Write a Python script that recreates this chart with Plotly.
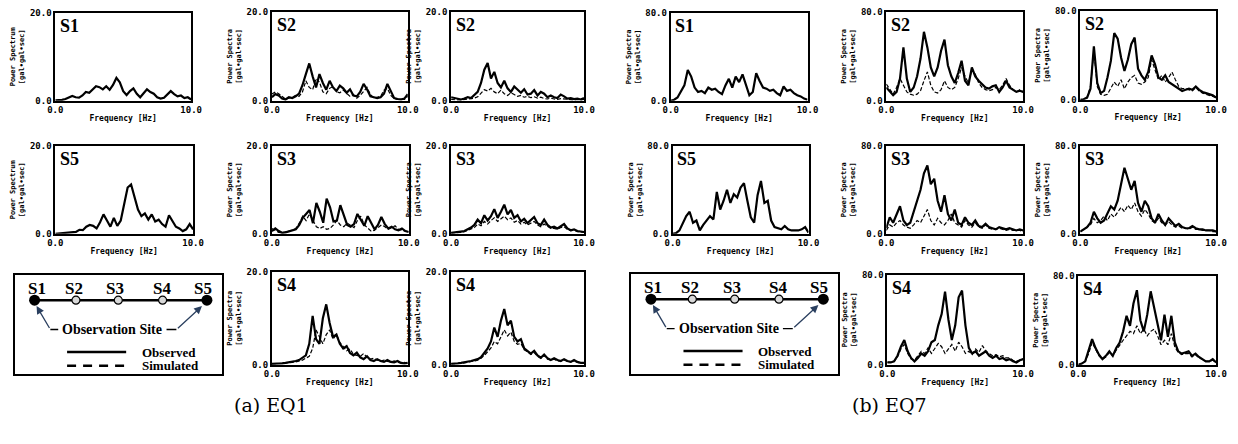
import plotly.graph_objects as go

W, H = 1238, 444

# ---------------- data ----------------
FREQ = [0.0, 0.25, 0.5, 0.75, 1.0, 1.25, 1.5, 1.75, 2.0, 2.25, 2.5, 2.75, 3.0, 3.25, 3.5, 3.75,
        4.0, 4.25, 4.5, 4.75, 5.0, 5.25, 5.5, 5.75, 6.0, 6.25, 6.5, 6.75, 7.0, 7.25, 7.5, 7.75,
        8.0, 8.25, 8.5, 8.75, 9.0, 9.25, 9.5, 9.75, 10.0]

X_TICKS = [0, 10]
X_TICKTEXT = ["0.0", "10.0"]
EQ1_YMAX = 20
EQ7_YMAX = 80
EQ1_YTICKTEXT = ["0.0", "20.0"]
EQ7_YTICKTEXT = ["0.0", "80.0"]

# EQ1 (a)
EQ1_S1_OBS = [0.1, 0.1, 0.2, 0.4, 0.8, 1.1, 0.8, 0.7, 1.2, 2.0, 1.8, 2.6, 3.3, 3.1, 2.6, 3.3, 2.5, 3.6, 5.2, 4.2,
              2.2, 1.3, 2.2, 2.8, 1.6, 0.8, 1.6, 2.6, 2.0, 1.6, 0.8, 0.5, 0.7, 1.4, 2.2, 1.5, 1.0, 1.2, 0.6, 0.8, 0.3]
EQ1_S5_OBS = [0.0, 0.05, 0.1, 0.1, 0.2, 0.3, 0.4, 0.9, 0.8, 1.6, 2.0, 1.8, 1.2, 2.6, 4.4, 3.0, 1.6, 3.6, 1.8, 3.0,
              6.5, 10.5, 11.2, 8.0, 5.5, 4.0, 4.6, 3.2, 4.4, 2.8, 3.2, 2.2, 1.6, 4.2, 3.0, 1.6, 1.2, 0.6, 1.0, 2.2, 1.0]
EQ1_S2A_OBS = [0.8, 1.5, 1.2, 0.5, 0.3, 0.8, 0.6, 1.0, 1.6, 3.5, 6.0, 8.4, 5.5, 3.0, 6.0, 4.0, 2.5, 4.5, 3.0, 2.2,
               3.4, 2.8, 1.8, 2.6, 1.2, 1.0, 2.0, 3.8, 2.6, 1.0, 0.8, 0.6, 0.8, 1.6, 3.8, 2.0, 0.6, 0.4, 0.3, 0.5, 1.5]
EQ1_S2A_SIM = [1.5, 2.0, 1.6, 1.0, 0.4, 0.6, 0.8, 1.2, 1.0, 2.0, 4.5, 3.0, 2.5, 5.0, 4.2, 2.0, 1.6, 2.8, 3.2, 2.0,
               1.8, 2.4, 1.6, 1.0, 1.4, 0.6, 1.2, 2.2, 3.0, 1.4, 0.6, 0.8, 1.0, 2.4, 2.8, 1.2, 0.5, 0.3, 0.4, 0.3, 1.0]
EQ1_S2B_OBS = [0.8, 0.6, 0.4, 0.3, 0.5, 0.8, 0.6, 1.2, 2.0, 4.0, 7.0, 8.5, 5.0, 6.5, 4.0, 3.0, 4.5, 2.8, 2.0, 3.2,
               2.4, 1.8, 2.6, 1.4, 1.6, 2.4, 1.2, 2.0, 1.6, 0.8, 1.2, 0.8, 0.6, 1.4, 1.0, 0.5, 0.6, 0.4, 0.5, 0.3, 0.6]
EQ1_S2B_SIM = [0.3, 0.2, 0.2, 0.2, 0.3, 0.4, 0.4, 0.6, 0.9, 1.6, 2.5, 2.2, 2.8, 2.0, 1.6, 2.4, 1.6, 1.2, 1.8, 1.4,
               1.0, 1.2, 0.8, 1.0, 0.7, 0.9, 0.6, 0.8, 0.5, 0.4, 0.6, 0.4, 0.3, 0.5, 0.4, 0.3, 0.3, 0.2, 0.3, 0.2, 0.3]
EQ1_S3A_OBS = [0.6, 1.2, 0.6, 0.2, 0.3, 0.5, 0.8, 1.0, 2.0, 3.6, 4.5, 5.4, 2.4, 7.0, 5.0, 2.5, 8.0, 6.0, 2.8, 3.0,
               6.5, 4.0, 2.0, 1.6, 2.2, 4.5, 3.0, 1.8, 4.0, 2.4, 1.0, 2.0, 3.8, 2.2, 1.2, 1.6, 1.0, 0.8, 1.2, 0.6, 0.4]
EQ1_S3A_SIM = [1.2, 0.8, 0.3, 0.2, 0.4, 0.6, 0.8, 1.2, 2.4, 4.0, 3.0, 4.5, 3.0, 1.6, 1.2, 1.6, 1.0, 1.2, 2.0, 3.0,
               2.0, 1.6, 2.4, 1.8, 1.4, 3.0, 4.0, 2.0, 1.2, 0.6, 0.8, 1.4, 2.0, 1.6, 1.0, 1.4, 1.8, 1.0, 0.8, 0.6, 0.4]
EQ1_S3B_OBS = [0.2, 0.3, 0.3, 0.4, 0.6, 1.0, 1.4, 2.0, 3.2, 2.4, 4.2, 3.0, 4.0, 5.6, 3.6, 5.0, 6.6, 4.4, 5.4, 3.6,
               4.2, 2.8, 3.4, 2.4, 3.0, 3.8, 2.4, 2.0, 3.2, 2.0, 1.4, 1.6, 1.2, 1.8, 2.2, 1.2, 0.8, 1.0, 0.6, 0.5, 0.4]
EQ1_S3B_SIM = [0.2, 0.2, 0.3, 0.3, 0.5, 0.8, 1.0, 1.4, 2.2, 1.8, 2.8, 2.2, 3.0, 3.6, 2.8, 3.4, 4.0, 3.2, 3.6, 2.6,
               3.0, 2.2, 2.6, 2.0, 2.4, 2.8, 2.0, 1.6, 2.2, 1.6, 1.2, 1.2, 1.0, 1.4, 1.6, 1.0, 0.7, 0.8, 0.5, 0.4, 0.3]
EQ1_S4A_OBS = [0.2, 0.2, 0.3, 0.3, 0.4, 0.5, 0.6, 0.8, 1.0, 1.5, 2.0, 4.5, 10.5, 5.5, 4.5, 10.0, 13.0, 9.0, 6.0, 6.5,
               4.5, 3.5, 4.0, 2.5, 2.0, 2.6, 1.6, 1.2, 1.8, 1.0, 0.8, 1.2, 0.8, 0.6, 1.0, 0.6, 0.5, 0.8, 0.4, 0.3, 0.4]
EQ1_S4A_SIM = [0.2, 0.2, 0.3, 0.3, 0.4, 0.4, 0.5, 0.6, 0.8, 1.0, 1.4, 1.8, 3.5, 7.5, 6.0, 4.5, 6.5, 7.5, 5.5, 6.5,
               4.8, 3.8, 3.0, 3.4, 2.2, 2.0, 1.8, 2.4, 1.6, 1.2, 1.4, 1.0, 0.8, 1.0, 0.7, 0.6, 0.8, 0.5, 0.4, 0.5, 0.3]
EQ1_S4B_OBS = [0.2, 0.2, 0.3, 0.4, 0.5, 0.6, 0.8, 1.0, 1.2, 1.6, 2.5, 3.5, 5.0, 8.0, 6.0, 9.5, 12.0, 8.5, 9.5, 6.0,
               5.0, 5.5, 3.5, 3.0, 2.4, 3.0, 2.0, 1.5, 2.2, 1.4, 1.0, 1.4, 1.0, 0.8, 1.2, 0.8, 0.6, 1.0, 0.6, 0.4, 0.4]
EQ1_S4B_SIM = [0.2, 0.2, 0.3, 0.3, 0.4, 0.5, 0.6, 0.8, 1.0, 1.4, 2.0, 2.8, 3.6, 5.0, 4.5, 6.0, 7.5, 6.2, 7.0, 5.0,
               4.4, 4.6, 3.2, 2.8, 2.2, 2.6, 1.8, 1.4, 2.0, 1.2, 1.0, 1.2, 0.8, 0.8, 1.0, 0.7, 0.6, 0.8, 0.5, 0.4, 0.3]

# EQ7 (b)
EQ7_S1_OBS = [0, 1, 3, 8, 14, 28, 22, 12, 8, 9, 7, 12, 10, 11, 8, 6, 14, 20, 12, 22,
              17, 24, 15, 5, 8, 25, 18, 12, 11, 9, 10, 7, 5, 13, 9, 10, 7, 5, 4, 2, 1]
EQ7_S5_OBS = [0, 0.5, 3, 10, 16, 20, 10, 12, 3, 8, 12, 16, 13, 38, 22, 30, 40, 28, 36, 33,
              42, 46, 30, 15, 10, 35, 48, 28, 30, 12, 6, 5, 4, 7, 4, 3, 3, 3, 4, 6, 1]
EQ7_S2A_OBS = [12, 8, 5, 8, 20, 48, 20, 8, 12, 22, 38, 62, 48, 30, 22, 30, 45, 55, 32, 22,
               16, 25, 36, 18, 14, 30, 22, 18, 15, 12, 11, 13, 14, 8, 12, 18, 12, 10, 8, 9, 8]
EQ7_S2A_SIM = [15, 10, 6, 12, 20, 14, 8, 6, 5, 6, 9, 18, 26, 14, 8, 7, 10, 18, 12, 10,
               12, 20, 30, 22, 16, 28, 24, 16, 12, 10, 9, 10, 12, 10, 14, 20, 14, 10, 8, 10, 8]
EQ7_S2B_OBS = [0, 0.5, 2, 10, 48, 15, 6, 8, 20, 35, 60, 55, 38, 26, 36, 50, 56, 28, 22, 18,
               25, 40, 32, 20, 18, 22, 16, 14, 12, 10, 8, 9, 10, 9, 12, 9, 7, 6, 5, 4, 2]
EQ7_S2B_SIM = [0, 0.5, 2, 12, 44, 12, 5, 4, 5, 10, 16, 12, 18, 10, 16, 20, 22, 15, 14, 16,
               20, 36, 26, 18, 22, 16, 20, 25, 18, 12, 10, 10, 9, 8, 11, 8, 6, 5, 4, 3, 2]
EQ7_S3A_OBS = [5, 15, 10, 18, 25, 12, 8, 10, 20, 28, 40, 55, 62, 45, 50, 30, 20, 35, 18, 12,
               22, 10, 8, 15, 10, 8, 12, 7, 6, 9, 6, 5, 4, 6, 5, 4, 5, 4, 3, 4, 3]
EQ7_S3A_SIM = [3, 8, 6, 10, 12, 8, 6, 5, 8, 12, 10, 16, 22, 12, 8, 14, 10, 8, 12, 18,
               10, 8, 6, 12, 8, 6, 10, 6, 5, 8, 5, 4, 4, 5, 4, 3, 4, 3, 3, 3, 2]
EQ7_S3B_OBS = [2, 4, 6, 10, 20, 14, 10, 12, 18, 25, 22, 30, 45, 60, 50, 40, 48, 28, 20, 30,
               25, 14, 10, 18, 12, 8, 14, 10, 7, 9, 6, 5, 5, 7, 5, 4, 4, 3, 3, 3, 2]
EQ7_S3B_SIM = [2, 4, 6, 8, 14, 10, 12, 16, 12, 18, 15, 20, 24, 20, 26, 22, 28, 20, 16, 22,
               18, 12, 10, 14, 10, 8, 11, 8, 6, 7, 5, 5, 4, 6, 4, 4, 3, 3, 3, 2, 2]
EQ7_S4A_OBS = [2, 2, 3, 8, 16, 22, 12, 6, 3, 6, 10, 8, 12, 20, 22, 35, 45, 65, 40, 22,
               35, 60, 66, 35, 15, 10, 12, 8, 10, 12, 8, 6, 8, 5, 6, 4, 5, 3, 2, 4, 5]
EQ7_S4A_SIM = [2, 2, 3, 7, 14, 18, 10, 5, 4, 8, 12, 10, 15, 10, 14, 19, 16, 10, 14, 18,
               12, 20, 16, 10, 12, 9, 14, 11, 17, 12, 10, 8, 9, 7, 8, 6, 6, 4, 3, 4, 5]
EQ7_S4B_OBS = [0, 1, 3, 12, 23, 15, 9, 5, 8, 12, 8, 15, 20, 30, 44, 35, 55, 67, 40, 30,
               45, 66, 52, 35, 22, 45, 25, 44, 20, 12, 10, 11, 12, 8, 10, 7, 5, 3, 3, 5, 2]
EQ7_S4B_SIM = [0, 1, 3, 10, 20, 14, 8, 5, 7, 11, 8, 13, 18, 22, 26, 30, 28, 35, 28, 32,
               26, 30, 32, 26, 18, 22, 18, 28, 16, 11, 9, 10, 10, 7, 9, 6, 5, 3, 3, 4, 2]

SITE_LABELS = ["S1", "S2", "S3", "S4", "S5"]
CAPTIONS = ["(a) EQ1", "(b) EQ7"]
YTITLE_1 = "Power Spectrum<br>[gal\u2022gal\u2022sec]"
YTITLE_2 = "Power Spectra<br>[gal\u2022gal\u2022sec]"
XTITLE = "Frequency [Hz]"

# ---------------- layout (pixel boxes) ----------------
# (x0, x1, y0, y1, ymax, yticktext, ytitle, label, obs, sim)
PANELS = [
    (48, 186, 8, 98, EQ1_YMAX, EQ1_YTICKTEXT, YTITLE_1, "S1", EQ1_S1_OBS, None),
    (48, 188, 144, 234, EQ1_YMAX, EQ1_YTICKTEXT, YTITLE_1, "S5", EQ1_S5_OBS, None),
    (268, 406, 7, 98, EQ1_YMAX, EQ1_YTICKTEXT, YTITLE_2, "S2", EQ1_S2A_OBS, EQ1_S2A_SIM),
    (268, 407, 144, 234, EQ1_YMAX, EQ1_YTICKTEXT, YTITLE_2, "S3", EQ1_S3A_OBS, EQ1_S3A_SIM),
    (268, 406, 273, 368, EQ1_YMAX, EQ1_YTICKTEXT, YTITLE_2, "S4", EQ1_S4A_OBS, EQ1_S4A_SIM),
    (450, 585, 7, 98, EQ1_YMAX, EQ1_YTICKTEXT, YTITLE_2, "S2", EQ1_S2B_OBS, EQ1_S2B_SIM),
    (450, 585, 144, 234, EQ1_YMAX, EQ1_YTICKTEXT, YTITLE_2, "S3", EQ1_S3B_OBS, EQ1_S3B_SIM),
    (450, 585, 273, 368, EQ1_YMAX, EQ1_YTICKTEXT, YTITLE_2, "S4", EQ1_S4B_OBS, EQ1_S4B_SIM),
    (673, 812, 8, 98, EQ7_YMAX, EQ7_YTICKTEXT, YTITLE_2, "S1", EQ7_S1_OBS, None),
    (675, 813, 144, 234, EQ7_YMAX, EQ7_YTICKTEXT, YTITLE_2, "S5", EQ7_S5_OBS, None),
    (892, 1031, 7, 98, EQ7_YMAX, EQ7_YTICKTEXT, YTITLE_2, "S2", EQ7_S2A_OBS, EQ7_S2A_SIM),
    (892, 1031, 144, 234, EQ7_YMAX, EQ7_YTICKTEXT, YTITLE_2, "S3", EQ7_S3A_OBS, EQ7_S3A_SIM),
    (893, 1031, 276, 368, EQ7_YMAX, EQ7_YTICKTEXT, YTITLE_2, "S4", EQ7_S4A_OBS, EQ7_S4A_SIM),
    (1089, 1227, 6, 97, EQ7_YMAX, EQ7_YTICKTEXT, YTITLE_2, "S2", EQ7_S2B_OBS, EQ7_S2B_SIM),
    (1089, 1227, 144, 234, EQ7_YMAX, EQ7_YTICKTEXT, YTITLE_2, "S3", EQ7_S3B_OBS, EQ7_S3B_SIM),
    (1087, 1227, 277, 368, EQ7_YMAX, EQ7_YTICKTEXT, YTITLE_2, "S4", EQ7_S4B_OBS, EQ7_S4B_SIM),
]
SCHEMES = [(7, 217, 276, 378), (633, 843, 275, 377)]
CAPTION_POS = [(267, 409), (895, 409)]

MONO = "DejaVu Sans Mono"
SERIF = "Liberation Serif"

fig = go.Figure()
layout = dict(width=W, height=H, autosize=False, margin=dict(l=0, r=0, t=0, b=0),
              paper_bgcolor="white", plot_bgcolor="white", showlegend=False)
annotations = []


def dom_x(a, b):
    return [a / W, b / W]


def dom_y(a, b):
    return [1 - b / H, 1 - a / H]


for i, (x0, x1, y0, y1, ymax, ytt, ytitle, lab, obs, sim) in enumerate(PANELS, start=1):
    xr = "x" if i == 1 else f"x{i}"
    yr = "y" if i == 1 else f"y{i}"
    if sim is not None:
        fig.add_trace(go.Scatter(x=FREQ, y=sim, xaxis=xr, yaxis=yr, mode="lines",
                                 line=dict(color="black", width=1.2, dash="4px,2px")))
    fig.add_trace(go.Scatter(x=FREQ, y=obs, xaxis=xr, yaxis=yr, mode="lines",
                             line=dict(color="black", width=2.2)))
    layout["xaxis" if i == 1 else f"xaxis{i}"] = dict(
        domain=dom_x(x0, x1), range=[0, 10], anchor=yr,
        tickvals=X_TICKS, ticktext=X_TICKTEXT, ticks="", showgrid=False, zeroline=False,
        showline=True, mirror=True, linecolor="black", linewidth=1.8,
        tickfont=dict(family=MONO, size=9, color="black", weight="bold"),
        title=dict(text=XTITLE, font=dict(family=MONO, size=8, color="black", weight="bold"), standoff=1),
    )
    layout["yaxis" if i == 1 else f"yaxis{i}"] = dict(
        domain=dom_y(y0, y1), range=[0, ymax], anchor=xr,
        tickvals=[0, ymax], ticktext=ytt, ticks="", showgrid=False, zeroline=False,
        showline=True, mirror=True, linecolor="black", linewidth=1.8,
        tickfont=dict(family=MONO, size=9, color="black", weight="bold"),
        title=dict(text=ytitle, font=dict(family=MONO, size=7, color="black", weight="bold"), standoff=4),
    )
    annotations.append(dict(text=lab, xref=f"{xr} domain", yref=f"{yr} domain", x=0.02, y=0.99,
                            xanchor="left", yanchor="top", showarrow=False,
                            font=dict(family=SERIF, size=18, color="black", weight="bold")))

# schematic panels
DOT_X = [20, 62, 105, 150, 195]
LAB_X = [22, 60, 102, 149, 191]
for k, (x0, x1, y0, y1) in enumerate(SCHEMES):
    n = len(PANELS) + 1 + k
    xr, yr = f"x{n}", f"y{n}"
    layout[f"xaxis{n}"] = dict(domain=dom_x(x0, x1), range=[0, x1 - x0], anchor=yr, showticklabels=False,
                               ticks="", showgrid=False, zeroline=False, showline=True, mirror=True,
                               linecolor="black", linewidth=1.5)
    layout[f"yaxis{n}"] = dict(domain=dom_y(y0, y1), range=[y1 - y0, 0], anchor=xr, showticklabels=False,
                               ticks="", showgrid=False, zeroline=False, showline=True, mirror=True,
                               linecolor="black", linewidth=1.5)
    fig.add_trace(go.Scatter(x=[DOT_X[0], DOT_X[-1]], y=[26, 26], xaxis=xr, yaxis=yr, mode="lines",
                             line=dict(color="black", width=2.5)))
    fig.add_trace(go.Scatter(x=[DOT_X[0], DOT_X[-1]], y=[26, 26], xaxis=xr, yaxis=yr, mode="markers",
                             marker=dict(color="black", size=11)))
    fig.add_trace(go.Scatter(x=DOT_X[1:4], y=[26, 26, 26], xaxis=xr, yaxis=yr, mode="markers",
                             marker=dict(color="#d8d8d8", size=8, line=dict(color="black", width=1.2))))
    for lx, lab in zip(LAB_X, SITE_LABELS):
        annotations.append(dict(text=lab, x=lx, y=14, xref=xr, yref=yr, showarrow=False,
                                font=dict(family=SERIF, size=17, color="black", weight="bold")))
    annotations.append(dict(text="Observation Site", x=99, y=56, xref=xr, yref=yr, showarrow=False,
                            font=dict(family=SERIF, size=14, color="black", weight="bold")))
    # leader lines
    fig.add_trace(go.Scatter(x=[44, 36], y=[56, 56], xaxis=xr, yaxis=yr, mode="lines",
                             line=dict(color="black", width=1.3)))
    fig.add_trace(go.Scatter(x=[154, 164], y=[56, 56], xaxis=xr, yaxis=yr, mode="lines",
                             line=dict(color="black", width=1.3)))
    annotations.append(dict(x=22, y=32, ax=36, ay=56, xref=xr, yref=yr, axref=xr, ayref=yr,
                            showarrow=True, arrowhead=2, arrowsize=1.2, arrowwidth=1.3, text=""))
    annotations.append(dict(x=190, y=32, ax=164, ay=56, xref=xr, yref=yr, axref=xr, ayref=yr,
                            showarrow=True, arrowhead=2, arrowsize=1.2, arrowwidth=1.3, text=""))
    # legend samples
    fig.add_trace(go.Scatter(x=[53, 113], y=[79, 79], xaxis=xr, yaxis=yr, mode="lines",
                             line=dict(color="black", width=2.5)))
    fig.add_trace(go.Scatter(x=[53, 113], y=[93, 93], xaxis=xr, yaxis=yr, mode="lines",
                             line=dict(color="black", width=2.5, dash="9px,7px")))
    annotations.append(dict(text="Observed", x=127, y=79, xref=xr, yref=yr, xanchor="left", yanchor="middle",
                            showarrow=False, font=dict(family=SERIF, size=13, color="black", weight="bold")))
    annotations.append(dict(text="Simulated", x=127, y=93, xref=xr, yref=yr, xanchor="left", yanchor="middle",
                            showarrow=False, font=dict(family=SERIF, size=13, color="black", weight="bold")))

for (cx, cy), cap in zip(CAPTION_POS, CAPTIONS):
    annotations.append(dict(text=cap, x=cx / W, y=1 - cy / H, xref="paper", yref="paper", showarrow=False,
                            xanchor="center", yanchor="middle",
                            font=dict(family="DejaVu Serif", size=19, color="black")))

layout["annotations"] = annotations
fig.update_layout(**layout)
fig.update_traces(hoverinfo="skip")
fig.write_html("out.html", config={"displayModeBar": False})
